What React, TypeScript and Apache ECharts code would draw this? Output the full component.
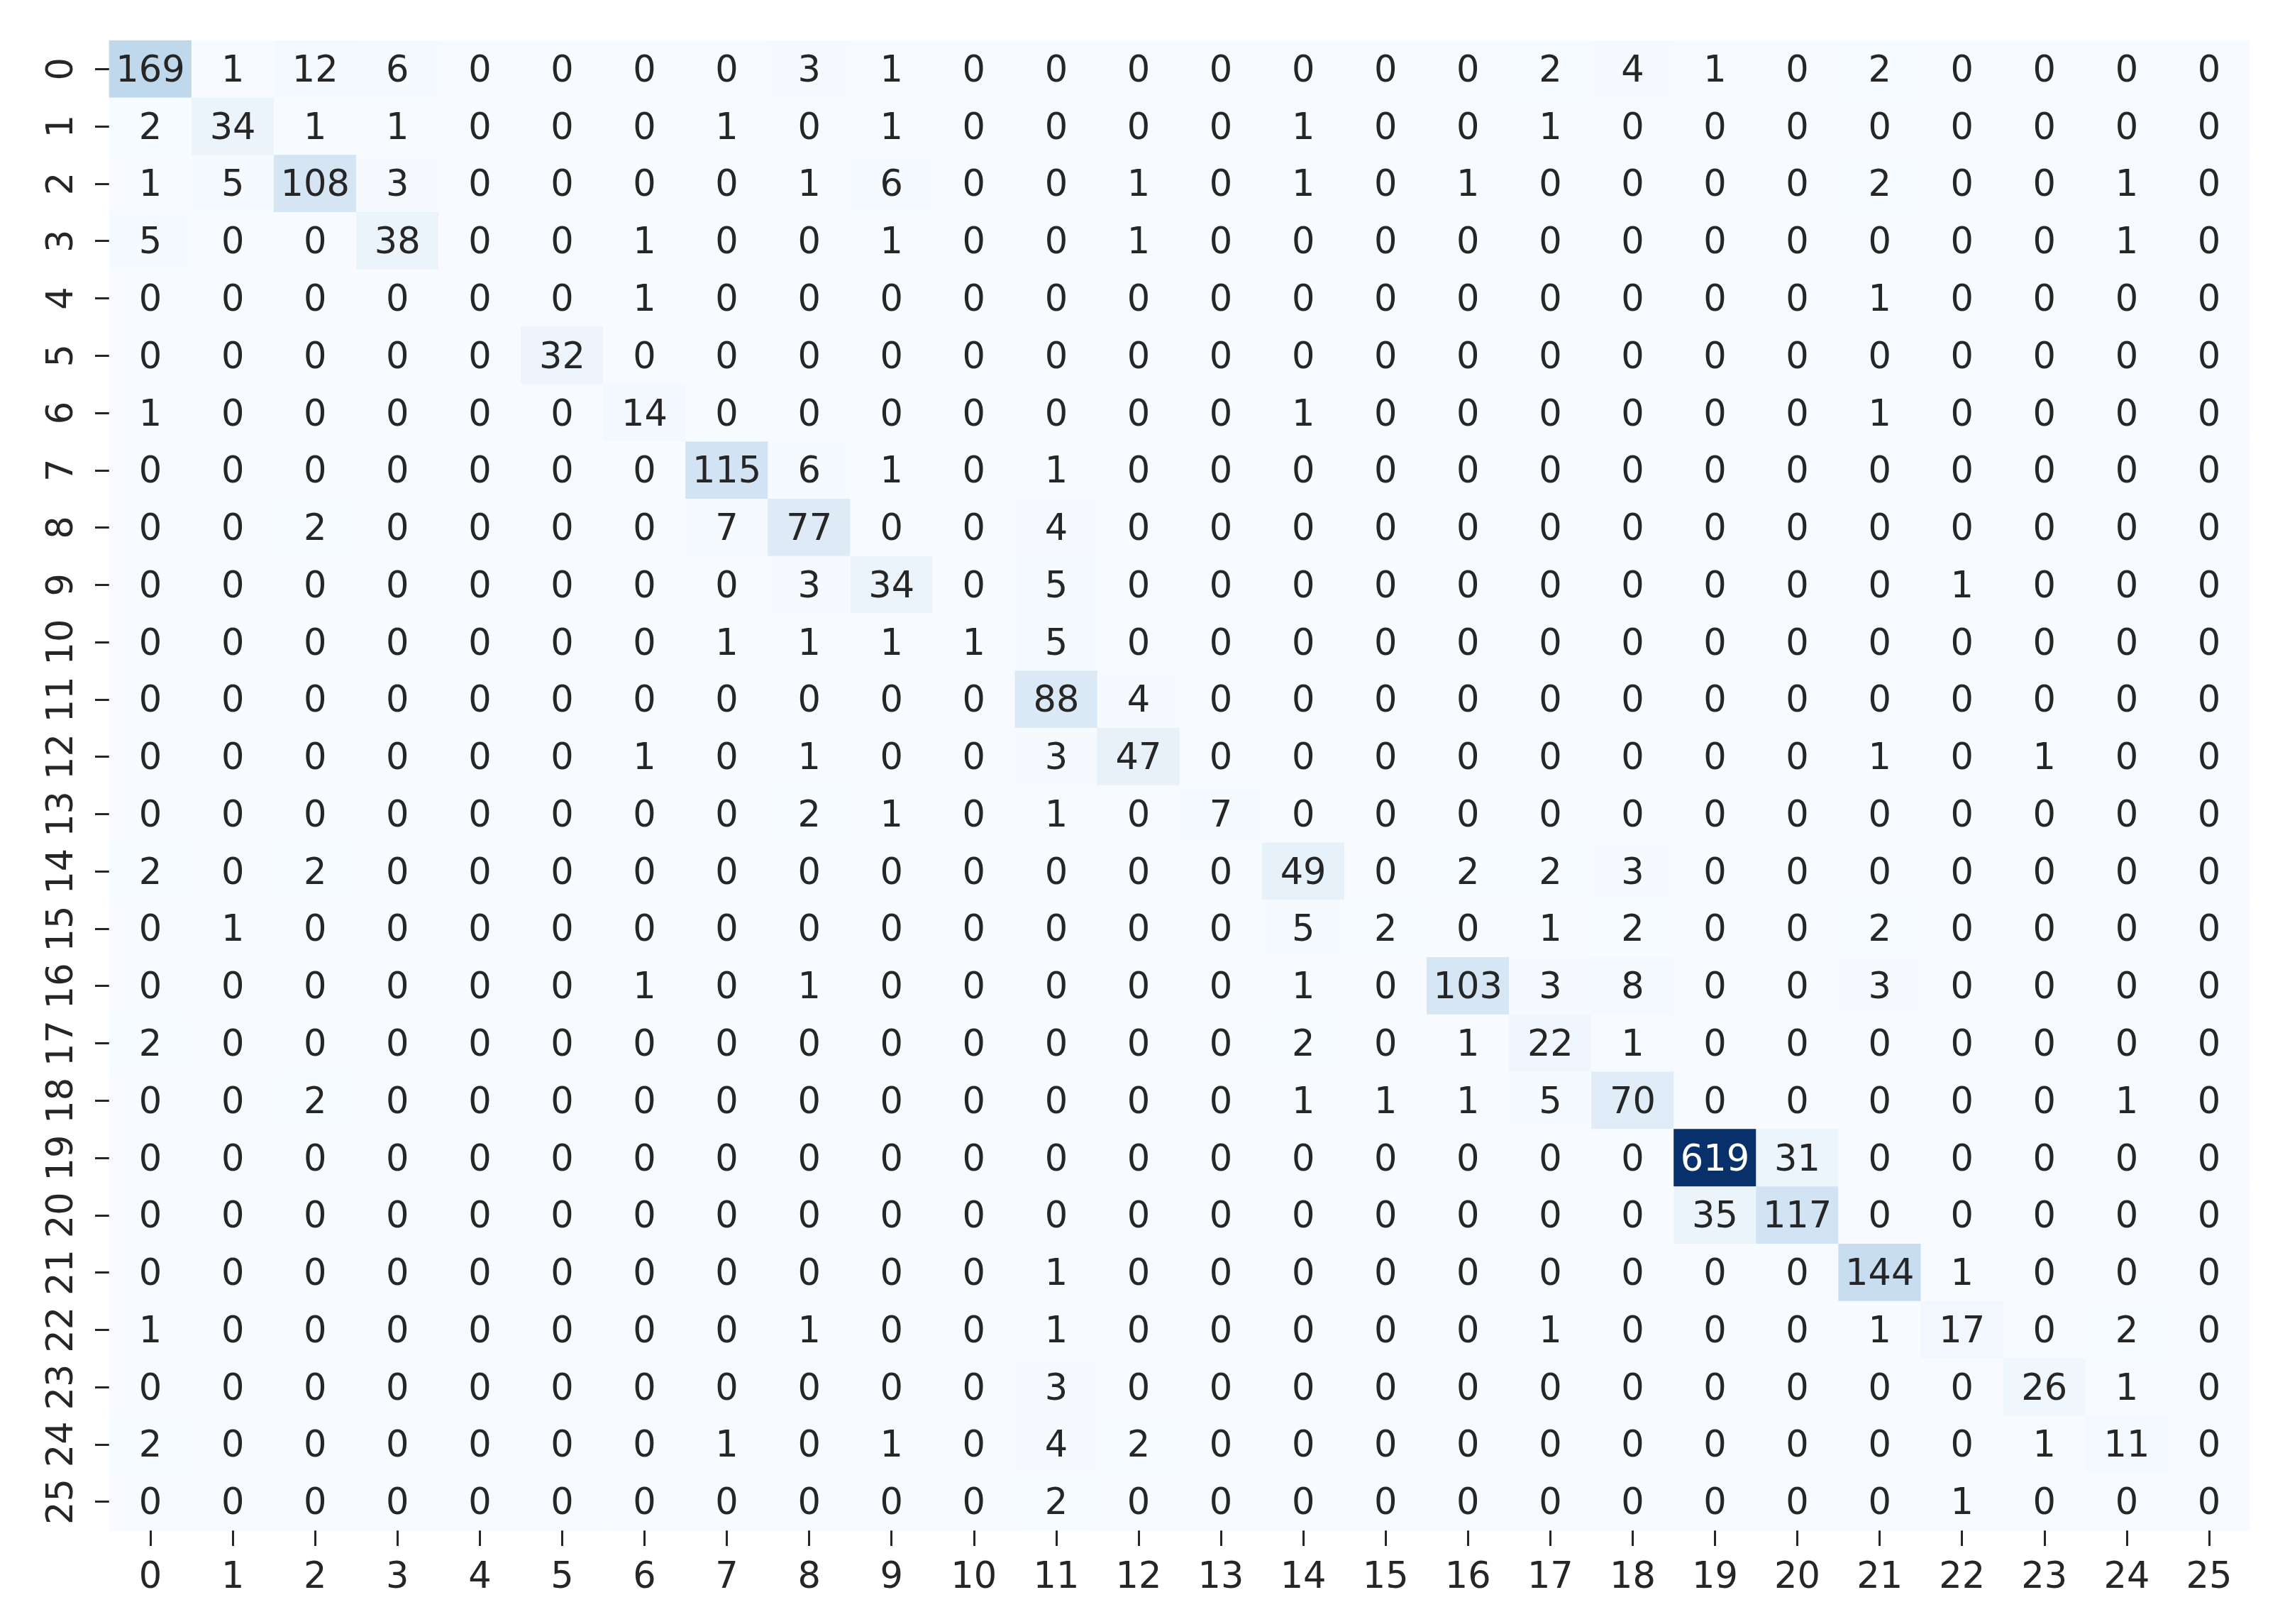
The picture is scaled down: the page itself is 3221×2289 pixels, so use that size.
import React, { useEffect, useRef } from "react";
import * as echarts from "echarts";

const classLabels = [
  "0", "1", "2", "3", "4", "5", "6", "7", "8", "9", "10", "11", "12",
  "13", "14", "15", "16", "17", "18", "19", "20", "21", "22", "23", "24", "25",
];

// rows = true class (top to bottom), columns = predicted class (left to right)
const row0 = [169, 1, 12, 6, 0, 0, 0, 0, 3, 1, 0, 0, 0, 0, 0, 0, 0, 2, 4, 1, 0, 2, 0, 0, 0, 0];
const row1 = [2, 34, 1, 1, 0, 0, 0, 1, 0, 1, 0, 0, 0, 0, 1, 0, 0, 1, 0, 0, 0, 0, 0, 0, 0, 0];
const row2 = [1, 5, 108, 3, 0, 0, 0, 0, 1, 6, 0, 0, 1, 0, 1, 0, 1, 0, 0, 0, 0, 2, 0, 0, 1, 0];
const row3 = [5, 0, 0, 38, 0, 0, 1, 0, 0, 1, 0, 0, 1, 0, 0, 0, 0, 0, 0, 0, 0, 0, 0, 0, 1, 0];
const row4 = [0, 0, 0, 0, 0, 0, 1, 0, 0, 0, 0, 0, 0, 0, 0, 0, 0, 0, 0, 0, 0, 1, 0, 0, 0, 0];
const row5 = [0, 0, 0, 0, 0, 32, 0, 0, 0, 0, 0, 0, 0, 0, 0, 0, 0, 0, 0, 0, 0, 0, 0, 0, 0, 0];
const row6 = [1, 0, 0, 0, 0, 0, 14, 0, 0, 0, 0, 0, 0, 0, 1, 0, 0, 0, 0, 0, 0, 1, 0, 0, 0, 0];
const row7 = [0, 0, 0, 0, 0, 0, 0, 115, 6, 1, 0, 1, 0, 0, 0, 0, 0, 0, 0, 0, 0, 0, 0, 0, 0, 0];
const row8 = [0, 0, 2, 0, 0, 0, 0, 7, 77, 0, 0, 4, 0, 0, 0, 0, 0, 0, 0, 0, 0, 0, 0, 0, 0, 0];
const row9 = [0, 0, 0, 0, 0, 0, 0, 0, 3, 34, 0, 5, 0, 0, 0, 0, 0, 0, 0, 0, 0, 0, 1, 0, 0, 0];
const row10 = [0, 0, 0, 0, 0, 0, 0, 1, 1, 1, 1, 5, 0, 0, 0, 0, 0, 0, 0, 0, 0, 0, 0, 0, 0, 0];
const row11 = [0, 0, 0, 0, 0, 0, 0, 0, 0, 0, 0, 88, 4, 0, 0, 0, 0, 0, 0, 0, 0, 0, 0, 0, 0, 0];
const row12 = [0, 0, 0, 0, 0, 0, 1, 0, 1, 0, 0, 3, 47, 0, 0, 0, 0, 0, 0, 0, 0, 1, 0, 1, 0, 0];
const row13 = [0, 0, 0, 0, 0, 0, 0, 0, 2, 1, 0, 1, 0, 7, 0, 0, 0, 0, 0, 0, 0, 0, 0, 0, 0, 0];
const row14 = [2, 0, 2, 0, 0, 0, 0, 0, 0, 0, 0, 0, 0, 0, 49, 0, 2, 2, 3, 0, 0, 0, 0, 0, 0, 0];
const row15 = [0, 1, 0, 0, 0, 0, 0, 0, 0, 0, 0, 0, 0, 0, 5, 2, 0, 1, 2, 0, 0, 2, 0, 0, 0, 0];
const row16 = [0, 0, 0, 0, 0, 0, 1, 0, 1, 0, 0, 0, 0, 0, 1, 0, 103, 3, 8, 0, 0, 3, 0, 0, 0, 0];
const row17 = [2, 0, 0, 0, 0, 0, 0, 0, 0, 0, 0, 0, 0, 0, 2, 0, 1, 22, 1, 0, 0, 0, 0, 0, 0, 0];
const row18 = [0, 0, 2, 0, 0, 0, 0, 0, 0, 0, 0, 0, 0, 0, 1, 1, 1, 5, 70, 0, 0, 0, 0, 0, 1, 0];
const row19 = [0, 0, 0, 0, 0, 0, 0, 0, 0, 0, 0, 0, 0, 0, 0, 0, 0, 0, 0, 619, 31, 0, 0, 0, 0, 0];
const row20 = [0, 0, 0, 0, 0, 0, 0, 0, 0, 0, 0, 0, 0, 0, 0, 0, 0, 0, 0, 35, 117, 0, 0, 0, 0, 0];
const row21 = [0, 0, 0, 0, 0, 0, 0, 0, 0, 0, 0, 1, 0, 0, 0, 0, 0, 0, 0, 0, 0, 144, 1, 0, 0, 0];
const row22 = [1, 0, 0, 0, 0, 0, 0, 0, 1, 0, 0, 1, 0, 0, 0, 0, 0, 1, 0, 0, 0, 1, 17, 0, 2, 0];
const row23 = [0, 0, 0, 0, 0, 0, 0, 0, 0, 0, 0, 3, 0, 0, 0, 0, 0, 0, 0, 0, 0, 0, 0, 26, 1, 0];
const row24 = [2, 0, 0, 0, 0, 0, 0, 1, 0, 1, 0, 4, 2, 0, 0, 0, 0, 0, 0, 0, 0, 0, 0, 1, 11, 0];
const row25 = [0, 0, 0, 0, 0, 0, 0, 0, 0, 0, 0, 2, 0, 0, 0, 0, 0, 0, 0, 0, 0, 0, 1, 0, 0, 0];

const matrix = [
  row0, row1, row2, row3, row4, row5, row6, row7, row8, row9, row10, row11, row12,
  row13, row14, row15, row16, row17, row18, row19, row20, row21, row22, row23, row24, row25,
];

const BLUES = [
  "#f7fbff", "#deebf7", "#c6dbef", "#9ecae1", "#6baed6",
  "#4292c6", "#2171b5", "#08519c", "#08306b",
];

const FONT = "DejaVu Sans";
const TEXT_DARK = "#262626";

export default function App() {
  const ref = useRef<HTMLDivElement>(null);

  useEffect(() => {
    if (!ref.current) return;
    const chart = echarts.init(ref.current, undefined, { renderer: "svg" });

    let maxV = 0;
    matrix.forEach((r) => r.forEach((v) => { if (v > maxV) maxV = v; }));

    const data: any[] = [];
    matrix.forEach((r, yi) => {
      r.forEach((v, xi) => {
        const dark = v / maxV > 0.6;
        data.push({
          value: [xi, yi, v],
          label: { color: dark ? "#ffffff" : TEXT_DARK },
        });
      });
    });

    chart.setOption({
      animation: false,
      backgroundColor: "#ffffff",
      grid: { left: 154, top: 57, width: 3018, height: 2100, containLabel: false },
      xAxis: {
        type: "category",
        data: classLabels,
        position: "bottom",
        axisLine: { show: false },
        axisTick: {
          show: true,
          alignWithLabel: true,
          interval: 0,
          length: 22,
          lineStyle: { color: TEXT_DARK, width: 3 },
        },
        axisLabel: {
          interval: 0,
          fontSize: 51,
          fontFamily: FONT,
          color: TEXT_DARK,
          margin: 38,
        },
        splitLine: { show: false },
      },
      yAxis: {
        type: "category",
        data: classLabels,
        inverse: true,
        axisLine: { show: false },
        axisTick: {
          show: true,
          alignWithLabel: true,
          interval: 0,
          length: 20,
          lineStyle: { color: TEXT_DARK, width: 3 },
        },
        axisLabel: {
          interval: 0,
          rotate: 90,
          fontSize: 51,
          fontFamily: FONT,
          color: TEXT_DARK,
          margin: 44,
        },
        splitLine: { show: false },
      },
      visualMap: {
        show: false,
        min: 0,
        max: maxV,
        dimension: 2,
        inRange: { color: BLUES },
      },
      series: [
        {
          type: "heatmap",
          data,
          label: {
            show: true,
            fontSize: 51,
            fontFamily: FONT,
            color: TEXT_DARK,
          },
          itemStyle: { borderWidth: 0 },
          emphasis: { disabled: true },
        },
      ],
    });

    return () => chart.dispose();
  }, []);

  return (
    <div
      ref={ref}
      style={{ position: "absolute", left: 0, top: 0, width: 3221, height: 2289 }}
    />
  );
}
